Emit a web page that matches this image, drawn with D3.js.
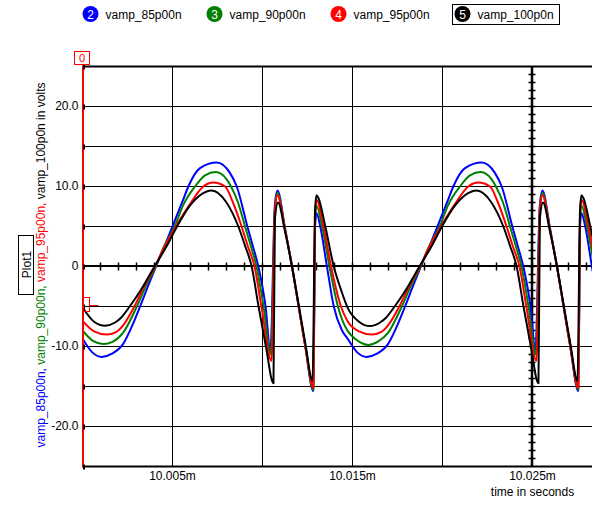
<!DOCTYPE html>
<html>
<head>
<meta charset="utf-8">
<script src="https://cdn.jsdelivr.net/npm/d3@7"></script>
<style>
  body { margin: 0; background: #fff; }
  svg { display: block; font-family: "Liberation Sans", Arial, sans-serif; font-size: 12px; }
</style>
</head>
<body>
<svg id="chart" width="592" height="506"></svg>
<script>
// traces, colours and the curve numbers shown in the legend
let names = ["vamp_85p00n", "vamp_90p00n", "vamp_95p00n", "vamp_100p0n"];
let colors = ["#0000ff", "#008000", "#ff0000", "#000000"];
let traceNumbers = ["2", "3", "4", "5"];

// [time in microseconds after 10ms, volts]
let vamp85 = [
  [0.00, -9.0], [0.53, -10.7], [1.07, -11.3], [1.64, -10.9], [2.25, -9.7], [2.70, -7.7], [3.20, -5.0],
  [3.65, -2.4], [4.08, 0.0], [4.53, 2.4], [5.00, 5.0], [5.60, 8.4], [5.88, 10.0], [6.53, 12.3],
  [7.46, 13.0], [8.19, 11.7], [8.57, 10.0], [9.16, 5.0], [9.47, 2.5], [9.77, 0.0], [10.17, -5.0],
  [10.44, -10.5], [10.69, 7.8], [10.83, 9.5], [11.25, 4.8], [11.64, 0.0], [12.01, -5.0], [12.38, -10.0],
  [12.83, -15.6], [12.92, 5.0], [13.00, 6.7], [13.21, 5.0], [13.58, 0.0], [13.96, -5.0], [14.42, -8.0],
  [14.72, -9.0], [15.25, -10.7], [15.79, -11.3], [16.36, -10.9], [16.97, -9.7], [17.42, -7.7], [17.92, -5.0],
  [18.37, -2.4], [18.80, 0.0], [19.25, 2.4], [19.72, 5.0], [20.32, 8.4], [20.60, 10.0], [21.25, 12.3],
  [22.18, 13.0], [22.91, 11.7], [23.29, 10.0], [23.88, 5.0], [24.19, 2.5], [24.49, 0.0], [24.89, -5.0],
  [25.16, -10.5], [25.41, 7.8], [25.55, 9.5], [25.97, 4.8], [26.36, 0.0], [26.73, -5.0], [27.10, -10.0],
  [27.55, -15.6], [27.64, 5.0], [27.72, 6.7], [27.93, 5.0], [28.30, 0.0], [28.68, -5.0]
];
let vamp90 = [
  [0.00, -8.0], [0.58, -9.3], [1.16, -9.7], [1.69, -9.4], [2.25, -8.3], [3.02, -5.0], [3.53, -2.4],
  [4.06, 0.0], [4.47, 2.2], [5.14, 5.1], [5.60, 7.7], [6.25, 10.0], [6.81, 11.4], [7.40, 11.8],
  [8.01, 10.9], [8.25, 10.0], [8.64, 8.0], [9.03, 5.0], [9.36, 2.5], [9.67, 0.0], [10.06, -5.0],
  [10.47, -11.0], [10.69, 7.3], [10.83, 9.2], [11.25, 4.7], [11.64, 0.0], [12.01, -5.0], [12.38, -10.0],
  [12.83, -15.4], [12.92, 6.0], [13.00, 7.6], [13.31, 5.0], [13.72, 0.0], [14.19, -5.0], [14.45, -6.8],
  [14.72, -8.0], [15.30, -9.3], [15.88, -9.8], [16.41, -9.4], [16.97, -8.3], [17.74, -5.0], [18.25, -2.4],
  [18.78, 0.0], [19.19, 2.2], [19.86, 5.1], [20.32, 7.7], [20.97, 10.0], [21.53, 11.4], [22.12, 11.8],
  [22.73, 10.9], [22.97, 10.0], [23.36, 8.0], [23.75, 5.0], [24.08, 2.5], [24.39, 0.0], [24.78, -5.0],
  [25.19, -11.0], [25.41, 7.3], [25.55, 9.2], [25.97, 4.7], [26.36, 0.0], [26.73, -5.0], [27.10, -10.0],
  [27.55, -15.4], [27.64, 6.0], [27.72, 7.6], [28.03, 5.0], [28.44, 0.0], [28.91, -5.0]
];
let vamp95 = [
  [0.00, -6.8], [0.64, -8.1], [1.34, -8.5], [1.86, -8.2], [2.31, -7.2], [2.88, -5.0], [3.42, -2.5],
  [4.03, 0.0], [4.58, 2.6], [5.19, 5.0], [5.97, 7.8], [6.71, 10.0], [7.27, 10.5], [7.92, 10.0],
  [8.36, 8.0], [8.84, 5.0], [9.19, 2.5], [9.56, 0.0], [9.94, -5.0], [10.50, -11.8], [10.69, 7.0],
  [10.83, 8.9], [11.25, 4.6], [11.64, 0.0], [12.01, -5.0], [12.38, -10.0], [12.83, -15.2], [12.92, 6.5],
  [13.00, 8.3], [13.39, 5.0], [13.81, 0.0], [14.36, -5.0],
  [14.72, -6.8], [15.36, -8.1], [16.06, -8.5], [16.58, -8.2], [17.03, -7.2], [17.60, -5.0], [18.14, -2.5],
  [18.75, 0.0], [19.30, 2.6], [19.91, 5.0], [20.69, 7.8], [21.43, 10.0], [21.99, 10.5], [22.64, 10.0],
  [23.08, 8.0], [23.56, 5.0], [23.91, 2.5], [24.28, 0.0], [24.66, -5.0], [25.22, -11.8], [25.41, 7.0],
  [25.55, 8.9], [25.97, 4.6], [26.36, 0.0], [26.73, -5.0], [27.10, -10.0], [27.55, -15.2], [27.64, 6.5],
  [27.72, 8.3], [28.11, 5.0], [28.53, 0.0], [29.08, -5.0]
];
let vamp100 = [
  [0.00, -5.1], [0.64, -6.9], [1.25, -7.4], [1.81, -7.0], [2.14, -6.4], [2.62, -5.0], [3.25, -2.9],
  [4.00, 0.0], [4.64, 2.4], [5.25, 5.0], [5.97, 7.6], [6.53, 8.9], [7.18, 9.5], [7.97, 8.1],
  [8.66, 5.0], [9.03, 2.6], [9.40, 0.0], [9.78, -5.0], [10.19, -10.0], [10.61, -14.6], [10.69, 6.0],
  [10.86, 8.0], [11.25, 4.4], [11.64, 0.0], [12.01, -4.8], [12.38, -9.6], [12.78, -14.3], [12.92, 7.0],
  [13.00, 8.9], [13.10, 8.6], [13.49, 5.0], [13.96, 0.0], [14.36, -2.9],
  [14.72, -5.1], [15.36, -6.9], [15.97, -7.45], [16.53, -7.0], [16.86, -6.4], [17.34, -5.0], [17.97, -2.9],
  [18.72, 0.0], [19.36, 2.4], [19.97, 5.0], [20.69, 7.6], [21.25, 8.9], [21.90, 9.5], [22.69, 8.1],
  [23.38, 5.0], [23.75, 2.6], [24.12, 0.0], [24.50, -5.0], [24.91, -10.0], [25.33, -14.6], [25.41, 6.0],
  [25.58, 8.0], [25.97, 4.4], [26.36, 0.0], [26.73, -4.8], [27.10, -9.6], [27.50, -14.3], [27.64, 7.0],
  [27.72, 8.9], [27.82, 8.6], [28.21, 5.0], [28.68, 0.0]
];
let seriesData = [vamp85, vamp90, vamp95, vamp100];

let xTickValues = [5, 15, 25];
let xGridValues = [5, 10, 15, 20];
let yTickValues = [20, 10, 0, -10, -20];
let yGridValues = [-20, -15, -10, -5, 5, 10, 15, 20];

let plotLeft = 82.5, plotRight = 592.5, plotTop = 66.5, plotBottom = 466.5;

let svg = d3.select("#chart");

let x = d3.scaleLinear().domain([0, 28.3333]).range([plotLeft, plotRight]);
let y = d3.scaleLinear().domain([-25, 25]).range([plotBottom, plotTop]);

svg.append("defs").append("clipPath").attr("id", "plotClip")
  .append("rect")
  .attr("x", plotLeft).attr("y", plotTop)
  .attr("width", plotRight - plotLeft).attr("height", plotBottom - plotTop);

// grid
let hGrid = svg.append("g")
  .attr("transform", `translate(${plotLeft},0)`)
  .call(d3.axisLeft(y).tickValues(yGridValues).tickSize(-(plotRight - plotLeft)).tickFormat("").offset(0));
hGrid.select(".domain").remove();
hGrid.selectAll("line").attr("stroke", "#000");

let vGrid = svg.append("g")
  .attr("transform", `translate(0,${plotBottom})`)
  .call(d3.axisBottom(x).tickValues(xGridValues).tickSize(-(plotBottom - plotTop)).tickFormat("").offset(0));
vGrid.select(".domain").remove();
vGrid.selectAll("line").attr("stroke", "#000");

// frame
svg.append("line").attr("x1", plotLeft).attr("x2", plotRight)
  .attr("y1", plotTop).attr("y2", plotTop).attr("stroke", "#000").attr("stroke-width", 2);
svg.append("line").attr("x1", plotLeft).attr("x2", plotRight)
  .attr("y1", plotBottom).attr("y2", plotBottom).attr("stroke", "#000").attr("stroke-width", 2);

// zero axis with minor ticks
svg.append("line").attr("x1", plotLeft).attr("x2", plotRight)
  .attr("y1", y(0) - 0.5).attr("y2", y(0) - 0.5).attr("stroke", "#000").attr("stroke-width", 2);
svg.append("g").selectAll("line")
  .data(d3.range(1, 29))
  .join("line")
  .attr("x1", d => x(d)).attr("x2", d => x(d))
  .attr("y1", y(0) - 4).attr("y2", y(0) + 4)
  .attr("stroke", "#000").attr("stroke-width", 1.5);

// vertical axis at 10.025m with minor ticks
svg.append("line").attr("x1", x(25) - 0.5).attr("x2", x(25) - 0.5)
  .attr("y1", plotTop).attr("y2", plotBottom).attr("stroke", "#000").attr("stroke-width", 2.5);
svg.append("g").selectAll("line")
  .data(d3.range(-24, 25))
  .join("line")
  .attr("x1", x(25) - 4).attr("x2", x(25) + 3)
  .attr("y1", d => y(d)).attr("y2", d => y(d))
  .attr("stroke", "#000").attr("stroke-width", 1.5);

// tick labels
let yAxis = svg.append("g")
  .attr("transform", `translate(${plotLeft},0)`)
  .call(d3.axisLeft(y).tickValues(yTickValues).tickSize(0).tickPadding(4).offset(0)
    .tickFormat(d => d === 0 ? "0" : d.toFixed(1)));
yAxis.select(".domain").remove();
yAxis.selectAll("text").attr("dy", "0.27em").attr("fill", "#000")
  .style("font-size", "12px").style("font-family", "'Liberation Sans', Arial, sans-serif");

let xAxis = svg.append("g")
  .attr("transform", `translate(0,${plotBottom})`)
  .call(d3.axisBottom(x).tickValues(xTickValues).tickSize(0).tickPadding(5).offset(0)
    .tickFormat(d => (10 + d / 1000).toFixed(3) + "m"));
xAxis.select(".domain").remove();
xAxis.selectAll("text").attr("fill", "#000")
  .style("font-size", "12px").style("font-family", "'Liberation Sans', Arial, sans-serif");

svg.append("text")
  .attr("x", x(25)).attr("y", 496)
  .attr("text-anchor", "middle")
  .text("time in seconds");

// traces
let line = d3.line()
  .x(d => x(d[0]))
  .y(d => y(d[1]))
  .curve(d3.curveMonotoneX);

svg.append("g")
  .attr("clip-path", "url(#plotClip)")
  .selectAll("path")
  .data(seriesData)
  .join("path")
  .attr("d", line)
  .attr("fill", "none")
  .attr("stroke", (d, i) => colors[i])
  .attr("stroke-width", 2)
  .attr("stroke-linejoin", "round");

// cursor 0 on the left edge
svg.append("line").attr("x1", 83).attr("x2", 83)
  .attr("y1", 64.5).attr("y2", plotBottom + 1).attr("stroke", "#ff0000").attr("stroke-width", 2);
svg.append("g").selectAll("line")
  .data(d3.range(-25, 26, 5))
  .join("line")
  .attr("x1", 84).attr("x2", 84)
  .attr("y1", d => y(d) - 2).attr("y2", d => y(d) + 3)
  .attr("stroke", "#000").attr("stroke-width", 2);
svg.append("rect").attr("x", 74.5).attr("y", 51.5).attr("width", 15).attr("height", 13)
  .attr("fill", "#fff").attr("stroke", "#ff0000");
svg.append("text").attr("x", 82).attr("y", 61.5).attr("text-anchor", "middle")
  .attr("fill", "#ff0000").style("font-size", "11px").text("0");
svg.append("rect").attr("x", 83.5).attr("y", 297.5).attr("width", 6).attr("height", 14)
  .attr("fill", "none").attr("stroke", "#ff0000");
svg.append("line").attr("x1", 89.5).attr("x2", 98.5).attr("y1", 305.5).attr("y2", 305.5)
  .attr("stroke", "#ff0000");

// y axis title, one colour per trace
let yTitle = svg.append("text")
  .attr("transform", "translate(44.5,265) rotate(-90)")
  .attr("text-anchor", "middle");
names.forEach((n, i) => {
  yTitle.append("tspan").attr("fill", colors[i])
    .text(i < names.length - 1 ? n + ", " : n + " in volts");
});

// plot tab
svg.append("rect").attr("x", 18.5).attr("y", 235.5).attr("width", 15).attr("height", 59)
  .attr("fill", "#fff").attr("stroke", "#000");
svg.append("text").attr("transform", "translate(30.5,264.5) rotate(-90)")
  .attr("text-anchor", "middle").text("Plot1");

// legend
let legend = svg.append("g").selectAll("g")
  .data(names)
  .join("g")
  .attr("transform", (d, i) => `translate(${90.5 + 124 * i},14)`);
legend.append("circle").attr("r", 8).attr("fill", (d, i) => colors[i]);
legend.append("text").attr("y", 4.5).attr("text-anchor", "middle").attr("fill", "#fff")
  .text((d, i) => traceNumbers[i]);
legend.append("text").attr("x", 15).attr("y", 18.5 - 14).text(d => d);
svg.append("rect").attr("x", 452.5).attr("y", 4.5).attr("width", 107).attr("height", 20)
  .attr("fill", "none").attr("stroke", "#000");
</script>
</body>
</html>
